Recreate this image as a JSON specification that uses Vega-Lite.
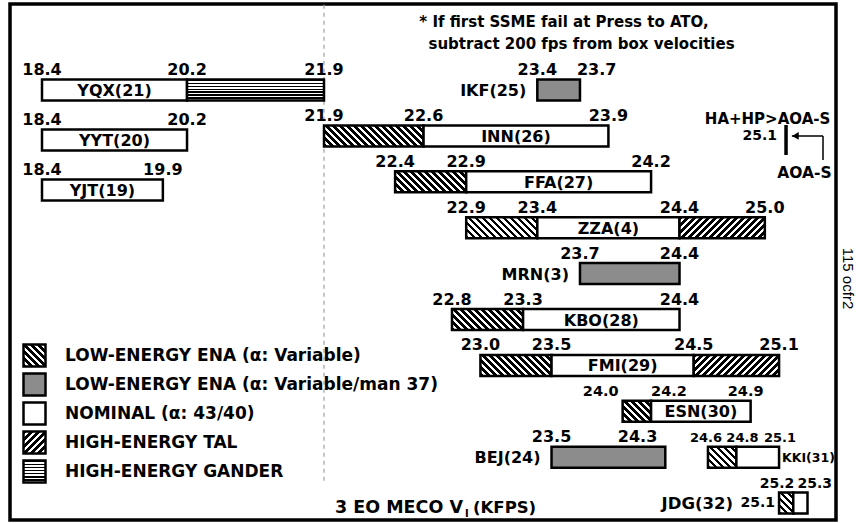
{
"$schema":"https://vega.github.io/schema/vega-lite/v6.json",
"width":826,"height":516,
"padding":{"left":10,"top":4,"right":25,"bottom":3},
"autosize":{"type":"none"},
"background":"#ffffff",
"config":{"view":{"stroke":"#000","strokeWidth":3.5},"axis":{"disable":true},"scale":{"continuousPadding":0},"text":{"font":"DejaVu Sans","fontWeight":"bold","fontSize":16,"color":"#000"}},
"params":[
{"name":"hs","value":[{"offset":0,"color":"#000"},{"offset":0.025,"color":"#000"},{"offset":0.025,"color":"#fff"},{"offset":0.05,"color":"#fff"},{"offset":0.05,"color":"#000"},{"offset":0.075,"color":"#000"},{"offset":0.075,"color":"#fff"},{"offset":0.1,"color":"#fff"},{"offset":0.1,"color":"#000"},{"offset":0.125,"color":"#000"},{"offset":0.125,"color":"#fff"},{"offset":0.15,"color":"#fff"},{"offset":0.15,"color":"#000"},{"offset":0.175,"color":"#000"},{"offset":0.175,"color":"#fff"},{"offset":0.2,"color":"#fff"},{"offset":0.2,"color":"#000"},{"offset":0.225,"color":"#000"},{"offset":0.225,"color":"#fff"},{"offset":0.25,"color":"#fff"},{"offset":0.25,"color":"#000"},{"offset":0.275,"color":"#000"},{"offset":0.275,"color":"#fff"},{"offset":0.3,"color":"#fff"},{"offset":0.3,"color":"#000"},{"offset":0.325,"color":"#000"},{"offset":0.325,"color":"#fff"},{"offset":0.35,"color":"#fff"},{"offset":0.35,"color":"#000"},{"offset":0.375,"color":"#000"},{"offset":0.375,"color":"#fff"},{"offset":0.4,"color":"#fff"},{"offset":0.4,"color":"#000"},{"offset":0.425,"color":"#000"},{"offset":0.425,"color":"#fff"},{"offset":0.45,"color":"#fff"},{"offset":0.45,"color":"#000"},{"offset":0.475,"color":"#000"},{"offset":0.475,"color":"#fff"},{"offset":0.5,"color":"#fff"},{"offset":0.5,"color":"#000"},{"offset":0.525,"color":"#000"},{"offset":0.525,"color":"#fff"},{"offset":0.55,"color":"#fff"},{"offset":0.55,"color":"#000"},{"offset":0.575,"color":"#000"},{"offset":0.575,"color":"#fff"},{"offset":0.6,"color":"#fff"},{"offset":0.6,"color":"#000"},{"offset":0.625,"color":"#000"},{"offset":0.625,"color":"#fff"},{"offset":0.65,"color":"#fff"},{"offset":0.65,"color":"#000"},{"offset":0.675,"color":"#000"},{"offset":0.675,"color":"#fff"},{"offset":0.7,"color":"#fff"},{"offset":0.7,"color":"#000"},{"offset":0.725,"color":"#000"},{"offset":0.725,"color":"#fff"},{"offset":0.75,"color":"#fff"},{"offset":0.75,"color":"#000"},{"offset":0.775,"color":"#000"},{"offset":0.775,"color":"#fff"},{"offset":0.8,"color":"#fff"},{"offset":0.8,"color":"#000"},{"offset":0.825,"color":"#000"},{"offset":0.825,"color":"#fff"},{"offset":0.85,"color":"#fff"},{"offset":0.85,"color":"#000"},{"offset":0.875,"color":"#000"},{"offset":0.875,"color":"#fff"},{"offset":0.9,"color":"#fff"},{"offset":0.9,"color":"#000"},{"offset":0.925,"color":"#000"},{"offset":0.925,"color":"#fff"},{"offset":0.95,"color":"#fff"},{"offset":0.95,"color":"#000"},{"offset":0.975,"color":"#000"},{"offset":0.975,"color":"#fff"},{"offset":1,"color":"#fff"}]},
{"name":"gs","value":[{"offset":0,"color":"#000"},{"offset":0.064,"color":"#000"},{"offset":0.064,"color":"#fff"},{"offset":0.143,"color":"#fff"},{"offset":0.143,"color":"#000"},{"offset":0.207,"color":"#000"},{"offset":0.207,"color":"#fff"},{"offset":0.286,"color":"#fff"},{"offset":0.286,"color":"#000"},{"offset":0.35,"color":"#000"},{"offset":0.35,"color":"#fff"},{"offset":0.429,"color":"#fff"},{"offset":0.429,"color":"#000"},{"offset":0.493,"color":"#000"},{"offset":0.493,"color":"#fff"},{"offset":0.571,"color":"#fff"},{"offset":0.571,"color":"#000"},{"offset":0.635,"color":"#000"},{"offset":0.635,"color":"#fff"},{"offset":0.714,"color":"#fff"},{"offset":0.714,"color":"#000"},{"offset":0.778,"color":"#000"},{"offset":0.778,"color":"#fff"},{"offset":0.857,"color":"#fff"},{"offset":0.857,"color":"#000"},{"offset":0.921,"color":"#000"},{"offset":0.921,"color":"#fff"},{"offset":1,"color":"#fff"}]}
],
"datasets":{
"segR":[
{"name":"IKF(25)","row":0,"type":"MAN","v0":23.4,"v1":23.7},
{"name":"INN(26)","row":1,"type":"LOW","v0":21.9,"v1":22.6},
{"name":"INN(26)","row":1,"type":"NOM","v0":22.6,"v1":23.9},
{"name":"FFA(27)","row":2,"type":"LOW","v0":22.4,"v1":22.9},
{"name":"FFA(27)","row":2,"type":"NOM","v0":22.9,"v1":24.2},
{"name":"ZZA(4)","row":3,"type":"LOW","v0":22.9,"v1":23.4},
{"name":"ZZA(4)","row":3,"type":"NOM","v0":23.4,"v1":24.4},
{"name":"ZZA(4)","row":3,"type":"TAL","v0":24.4,"v1":25.0},
{"name":"MRN(3)","row":4,"type":"MAN","v0":23.7,"v1":24.4},
{"name":"KBO(28)","row":5,"type":"LOW","v0":22.8,"v1":23.3},
{"name":"KBO(28)","row":5,"type":"NOM","v0":23.3,"v1":24.4},
{"name":"FMI(29)","row":6,"type":"LOW","v0":23.0,"v1":23.5},
{"name":"FMI(29)","row":6,"type":"NOM","v0":23.5,"v1":24.5},
{"name":"FMI(29)","row":6,"type":"TAL","v0":24.5,"v1":25.1},
{"name":"ESN(30)","row":7,"type":"LOW","v0":24.0,"v1":24.2},
{"name":"ESN(30)","row":7,"type":"NOM","v0":24.2,"v1":24.9},
{"name":"BEJ(24)","row":8,"type":"MAN","v0":23.5,"v1":24.3},
{"name":"KKI(31)","row":8,"type":"LOW","v0":24.6,"v1":24.8},
{"name":"KKI(31)","row":8,"type":"NOM","v0":24.8,"v1":25.1},
{"name":"JDG(32)","row":9,"type":"LOW","v0":25.1,"v1":25.2},
{"name":"JDG(32)","row":9,"type":"NOM","v0":25.2,"v1":25.3}
],
"segL":[
{"name":"YQX(21)","row":0,"type":"NOM","v0":18.4,"v1":20.2},
{"name":"YQX(21)","row":0,"type":"GAN","v0":20.2,"v1":21.9},
{"name":"YYT(20)","row":1,"type":"NOM","v0":18.4,"v1":20.2},
{"name":"YJT(19)","row":2,"type":"NOM","v0":18.4,"v1":19.9}
]
},
"resolve":{"scale":{"y":"independent"}},
"layer":[
{"data":{"name":"segR"},
 "layer":[
  {"data":{"values":[{}]},"mark":{"type":"rule","color":"#a0a0a0","strokeWidth":1.2,"strokeDash":[4,4]},"encoding":{"x":{"datum":21.9,"type":"quantitative","scale":{"domain":[18.4,21.9,25.3],"range":[32,314,797.5],"nice":false,"zero":false,"padding":0}},"y":{"datum":-1.86,"type":"quantitative","scale":{"domain":[0,9],"range":[86,499.1],"nice":false,"zero":false,"padding":0}},"y2":{"datum":8.54}}},
  {"mark":{"type":"bar","height":21,"stroke":"#000","strokeWidth":2.5},
   "encoding":{
    "x":{"field":"v0","type":"quantitative","scale":{"domain":[18.4,21.9,25.3],"range":[32,314,797.5],"nice":false,"zero":false,"padding":0},"axis":null},
    "x2":{"field":"v1"},
    "y":{"field":"row","type":"quantitative","scale":{"domain":[0,9],"range":[86,499.1],"nice":false,"zero":false,"padding":0},"axis":null},
    "fill":{"field":"type","type":"nominal",
      "scale":{"domain":["LOW","MAN","NOM","TAL","GAN"],"range":[{"expr":"{gradient: 'linear', x1: 0, y1: 1, x2: 3.1818, y2: -2.1818, stops: hs}"},"#8c8c8c","#ffffff",{"expr":"{gradient: 'linear', x1: 0, y1: 0, x2: 3.1818, y2: 3.1818, stops: hs}"},{"expr":"{gradient: 'linear', x1: 0, y1: 0, x2: 0, y2: 1, stops: gs}"}]},
      "legend":{"orient":"none","legendX":12,"legendY":339,"title":null,"direction":"vertical","symbolType":"square","symbolSize":484,"symbolStrokeColor":"#000","symbolStrokeWidth":2.5,"symbolOpacity":1,"labelFont":"DejaVu Sans","labelFontWeight":"bold","labelFontSize":17,"labelColor":"#000","labelOffset":18,"labelLimit":0,"rowPadding":-6,"padding":0,
        "labelExpr":"datum.value == 'LOW' ? 'LOW-ENERGY ENA (α: Variable)' : datum.value == 'MAN' ? 'LOW-ENERGY ENA (α: Variable/man 37)' : datum.value == 'NOM' ? 'NOMINAL (α: 43/40)' : datum.value == 'TAL' ? 'HIGH-ENERGY TAL' : 'HIGH-ENERGY GANDER'"},
      "condition":{"test":"true","value":{"expr":"datum.type == 'NOM' ? '#ffffff' : datum.type == 'MAN' ? '#8c8c8c' : datum.type == 'GAN' ? {gradient: 'linear', x1: 0, y1: 0, x2: 0, y2: 1, stops: gs} : {gradient: 'linear', x1: 0, y1: datum.type == 'LOW' ? 1 : 0, x2: 140 * abs(scale('x', datum.v1) - scale('x', datum.v0)) / (pow(scale('x', datum.v1) - scale('x', datum.v0), 2) + 441), y2: (datum.type == 'LOW' ? 1 : 0) + (datum.type == 'LOW' ? -2940 : 2940) / (pow(scale('x', datum.v1) - scale('x', datum.v0), 2) + 441), stops: hs}"}}
    }
   }
  },
  {"transform":[{"fold":["v0","v1"],"as":["end","v"]},{"aggregate":[{"op":"count","as":"n"}],"groupby":["name","row","v"]}],
   "encoding":{
     "x":{"field":"v","type":"quantitative","scale":{"domain":[18.4,21.9,25.3],"range":[32,314,797.5],"nice":false,"zero":false,"padding":0},"axis":null},
     "y":{"field":"row","type":"quantitative","scale":{"domain":[0,9],"range":[86,499.1],"nice":false,"zero":false,"padding":0},"axis":null},
     "text":{"field":"v","type":"quantitative","format":".1f"}},
   "layer":[
    {"transform":[{"filter":"indexof(['KKI(31)','JDG(32)','ESN(30)'], datum.name) < 0 && !(datum.name == 'BEJ(24)' && datum.v == 24.3) && !(datum.name == 'IKF(25)' && datum.v == 23.7)"}],"mark":{"type":"text","baseline":"alphabetic","dy":-15,"fontSize":16}},
    {"transform":[{"filter":"datum.name == 'IKF(25)' && datum.v == 23.7"}],"mark":{"type":"text","baseline":"alphabetic","dy":-15,"dx":-3,"align":"left","fontSize":16}},
    {"transform":[{"filter":"datum.name == 'BEJ(24)' && datum.v == 24.3"}],"mark":{"type":"text","baseline":"alphabetic","dy":-15,"dx":-8,"align":"right","fontSize":16}},
    {"transform":[{"filter":"datum.name == 'ESN(30)' && datum.v == 24"}],"mark":{"type":"text","baseline":"alphabetic","dy":-15,"dx":-4,"align":"right","fontSize":14.5}},
    {"transform":[{"filter":"datum.name == 'ESN(30)' && datum.v == 24.2"}],"mark":{"type":"text","baseline":"alphabetic","dy":-15,"dx":0,"align":"left","fontSize":14.5}},
    {"transform":[{"filter":"datum.name == 'ESN(30)' && datum.v == 24.9"}],"mark":{"type":"text","baseline":"alphabetic","dy":-15,"dx":-5,"fontSize":14.5}},
    {"transform":[{"filter":"datum.name == 'KKI(31)' && datum.v == 24.6"}],"mark":{"type":"text","baseline":"alphabetic","dy":-15,"dx":-2,"fontSize":13}},
    {"transform":[{"filter":"datum.name == 'KKI(31)' && datum.v == 24.8"}],"mark":{"type":"text","baseline":"alphabetic","dy":-15,"dx":6,"fontSize":13}},
    {"transform":[{"filter":"datum.name == 'KKI(31)' && datum.v == 25.1"}],"mark":{"type":"text","baseline":"alphabetic","dy":-15,"dx":1,"fontSize":13}},
    {"transform":[{"filter":"datum.name == 'JDG(32)' && datum.v == 25.1"}],"mark":{"type":"text","baseline":"middle","dx":-4,"align":"right","fontSize":14}},
    {"transform":[{"filter":"datum.name == 'JDG(32)' && datum.v == 25.2"}],"mark":{"type":"text","baseline":"alphabetic","dy":-15,"dx":1,"align":"right","fontSize":14}},
    {"transform":[{"filter":"datum.name == 'JDG(32)' && datum.v == 25.3"}],"mark":{"type":"text","baseline":"alphabetic","dy":-15,"dx":-10,"align":"left","fontSize":14}}
   ]
  },
  {"transform":[{"filter":"datum.type == 'NOM' && datum.name != 'KKI(31)' && datum.name != 'JDG(32)'"},{"fold":["v0","v1"],"as":["end","v"]},{"aggregate":[{"op":"mean","field":"v","as":"m"}],"groupby":["name","row"]}],
   "mark":{"type":"text","baseline":"middle","dy":1,"fontSize":16},
   "encoding":{"x":{"field":"m","type":"quantitative","scale":{"domain":[18.4,21.9,25.3],"range":[32,314,797.5],"nice":false,"zero":false,"padding":0},"axis":null},"y":{"field":"row","type":"quantitative","scale":{"domain":[0,9],"range":[86,499.1],"nice":false,"zero":false,"padding":0},"axis":null},"text":{"field":"name"}}},
  {"transform":[{"filter":"indexof(['IKF(25)','MRN(3)','BEJ(24)'], datum.name) >= 0"},{"aggregate":[{"op":"min","field":"v0","as":"m"}],"groupby":["name","row"]}],
   "mark":{"type":"text","baseline":"middle","dy":1,"dx":-11,"align":"right","fontSize":16},
   "encoding":{"x":{"field":"m","type":"quantitative","scale":{"domain":[18.4,21.9,25.3],"range":[32,314,797.5],"nice":false,"zero":false,"padding":0},"axis":null},"y":{"field":"row","type":"quantitative","scale":{"domain":[0,9],"range":[86,499.1],"nice":false,"zero":false,"padding":0},"axis":null},"text":{"field":"name"}}},
  {"transform":[{"filter":"datum.name == 'JDG(32)'"},{"aggregate":[{"op":"min","field":"v0","as":"m"}],"groupby":["name","row"]}],
   "mark":{"type":"text","baseline":"middle","dy":1,"dx":-46,"align":"right","fontSize":16.5},
   "encoding":{"x":{"field":"m","type":"quantitative","scale":{"domain":[18.4,21.9,25.3],"range":[32,314,797.5],"nice":false,"zero":false,"padding":0},"axis":null},"y":{"field":"row","type":"quantitative","scale":{"domain":[0,9],"range":[86,499.1],"nice":false,"zero":false,"padding":0},"axis":null},"text":{"field":"name"}}},
  {"transform":[{"filter":"datum.name == 'KKI(31)'"},{"aggregate":[{"op":"max","field":"v1","as":"m"}],"groupby":["name","row"]}],
   "mark":{"type":"text","baseline":"middle","dy":1,"dx":3,"align":"left","fontSize":12.5},
   "encoding":{"x":{"field":"m","type":"quantitative","scale":{"domain":[18.4,21.9,25.3],"range":[32,314,797.5],"nice":false,"zero":false,"padding":0},"axis":null},"y":{"field":"row","type":"quantitative","scale":{"domain":[0,9],"range":[86,499.1],"nice":false,"zero":false,"padding":0},"axis":null},"text":{"field":"name"}}},
  {"data":{"values":[{}]},"mark":{"type":"text","text":"* If first SSME fail at Press to ATO,","fontSize":15,"baseline":"alphabetic"},"encoding":{"x":{"datum":23.588,"type":"quantitative"},"y":{"datum":-1.373,"type":"quantitative"}}},
  {"data":{"values":[{}]},"mark":{"type":"text","text":"subtract 200 fps from box velocities","fontSize":15,"baseline":"alphabetic"},"encoding":{"x":{"datum":23.711,"type":"quantitative"},"y":{"datum":-0.904,"type":"quantitative"}}},
  {"data":{"values":[{}]},"mark":{"type":"text","text":"HA+HP>AOA-S","fontSize":15,"baseline":"alphabetic"},"encoding":{"x":{"datum":25.019,"type":"quantitative"},"y":{"datum":0.741,"type":"quantitative"}}},
  {"data":{"values":[{}]},"mark":{"type":"text","text":"25.1","fontSize":14,"align":"right","baseline":"alphabetic"},"encoding":{"x":{"datum":25.086,"type":"quantitative"},"y":{"datum":1.089,"type":"quantitative"}}},
  {"data":{"values":[{}]},"mark":{"type":"rule","color":"#000","strokeWidth":3.5},"encoding":{"x":{"datum":25.149,"type":"quantitative"},"y":{"datum":0.763,"type":"quantitative"},"y2":{"datum":1.416}}},
  {"data":{"values":[{}]},"mark":{"type":"rule","color":"#000","strokeWidth":1.5},"encoding":{"x":{"datum":25.19,"type":"quantitative"},"x2":{"datum":25.409},"y":{"datum":1.002,"type":"quantitative"}}},
  {"data":{"values":[{}]},"mark":{"type":"rule","color":"#000","strokeWidth":1.5},"encoding":{"x":{"datum":25.409,"type":"quantitative"},"y":{"datum":1.002,"type":"quantitative"},"y2":{"datum":1.525}}},
  {"data":{"values":[{}]},"mark":{"type":"point","shape":"triangle-left","filled":true,"color":"#000","size":60,"opacity":1},"encoding":{"x":{"datum":25.215,"type":"quantitative"},"y":{"datum":1.002,"type":"quantitative"}}},
  {"data":{"values":[{}]},"mark":{"type":"text","text":"AOA-S","fontSize":15.5,"baseline":"alphabetic"},"encoding":{"x":{"datum":25.279,"type":"quantitative"},"y":{"datum":1.917,"type":"quantitative"}}},
  {"data":{"values":[{}]},"mark":{"type":"text","text":"3 EO MECO V","fontSize":17.5,"align":"right","baseline":"alphabetic"},"encoding":{"x":{"datum":22.877,"type":"quantitative"},"y":{"datum":9.216,"type":"quantitative"}}},
  {"data":{"values":[{}]},"mark":{"type":"text","text":"I","fontSize":10,"align":"left","baseline":"alphabetic"},"encoding":{"x":{"datum":22.892,"type":"quantitative"},"y":{"datum":9.303,"type":"quantitative"}}},
  {"data":{"values":[{}]},"mark":{"type":"text","text":"(KFPS)","fontSize":16.5,"align":"left","baseline":"alphabetic"},"encoding":{"x":{"datum":22.948,"type":"quantitative"},"y":{"datum":9.216,"type":"quantitative"}}},
  {"data":{"values":[{}]},"mark":{"type":"text","text":"115 ocfr2","font":"Liberation Sans","fontWeight":"normal","fontSize":15,"angle":90,"align":"center","baseline":"middle"},"encoding":{"x":{"datum":25.588,"type":"quantitative"},"y":{"datum":4.107,"type":"quantitative"}}}
 ]
},
{"data":{"name":"segL"},
 "layer":[
  {"mark":{"type":"bar","height":21,"stroke":"#000","strokeWidth":2.5},
   "encoding":{
    "x":{"field":"v0","type":"quantitative","scale":{"domain":[18.4,21.9,25.3],"range":[32,314,797.5],"nice":false,"zero":false,"padding":0},"axis":null},
    "x2":{"field":"v1"},
    "y":{"field":"row","type":"quantitative","scale":{"domain":[0,2],"range":[86,186],"nice":false,"zero":false,"padding":0},"axis":null},
    "fill":{"field":"type","type":"nominal",
      "scale":{"domain":["LOW","MAN","NOM","TAL","GAN"],"range":[{"expr":"{gradient: 'linear', x1: 0, y1: 1, x2: 3.1818, y2: -2.1818, stops: hs}"},"#8c8c8c","#ffffff",{"expr":"{gradient: 'linear', x1: 0, y1: 0, x2: 3.1818, y2: 3.1818, stops: hs}"},{"expr":"{gradient: 'linear', x1: 0, y1: 0, x2: 0, y2: 1, stops: gs}"}]},
      "legend":{"orient":"none","legendX":12,"legendY":339,"title":null,"direction":"vertical","symbolType":"square","symbolSize":484,"symbolStrokeColor":"#000","symbolStrokeWidth":2.5,"symbolOpacity":1,"labelFont":"DejaVu Sans","labelFontWeight":"bold","labelFontSize":17,"labelColor":"#000","labelOffset":18,"labelLimit":0,"rowPadding":-6,"padding":0,
        "labelExpr":"datum.value == 'LOW' ? 'LOW-ENERGY ENA (α: Variable)' : datum.value == 'MAN' ? 'LOW-ENERGY ENA (α: Variable/man 37)' : datum.value == 'NOM' ? 'NOMINAL (α: 43/40)' : datum.value == 'TAL' ? 'HIGH-ENERGY TAL' : 'HIGH-ENERGY GANDER'"},
      "condition":{"test":"true","value":{"expr":"datum.type == 'NOM' ? '#ffffff' : datum.type == 'MAN' ? '#8c8c8c' : datum.type == 'GAN' ? {gradient: 'linear', x1: 0, y1: 0, x2: 0, y2: 1, stops: gs} : {gradient: 'linear', x1: 0, y1: datum.type == 'LOW' ? 1 : 0, x2: 140 * abs(scale('x', datum.v1) - scale('x', datum.v0)) / (pow(scale('x', datum.v1) - scale('x', datum.v0), 2) + 441), y2: (datum.type == 'LOW' ? 1 : 0) + (datum.type == 'LOW' ? -2940 : 2940) / (pow(scale('x', datum.v1) - scale('x', datum.v0), 2) + 441), stops: hs}"}}
    }
   }
  },
  {"transform":[{"fold":["v0","v1"],"as":["end","v"]},{"aggregate":[{"op":"count","as":"n"}],"groupby":["name","row","v"]}],
   "mark":{"type":"text","baseline":"alphabetic","dy":-15,"fontSize":16},
   "encoding":{"x":{"field":"v","type":"quantitative","scale":{"domain":[18.4,21.9,25.3],"range":[32,314,797.5],"nice":false,"zero":false,"padding":0},"axis":null},"y":{"field":"row","type":"quantitative","scale":{"domain":[0,2],"range":[86,186],"nice":false,"zero":false,"padding":0},"axis":null},"text":{"field":"v","type":"quantitative","format":".1f"}}},
  {"transform":[{"filter":"datum.type == 'NOM'"},{"fold":["v0","v1"],"as":["end","v"]},{"aggregate":[{"op":"mean","field":"v","as":"m"}],"groupby":["name","row"]}],
   "mark":{"type":"text","baseline":"middle","dy":1,"fontSize":16},
   "encoding":{"x":{"field":"m","type":"quantitative","scale":{"domain":[18.4,21.9,25.3],"range":[32,314,797.5],"nice":false,"zero":false,"padding":0},"axis":null},"y":{"field":"row","type":"quantitative","scale":{"domain":[0,2],"range":[86,186],"nice":false,"zero":false,"padding":0},"axis":null},"text":{"field":"name"}}}
 ]
}
]
}
